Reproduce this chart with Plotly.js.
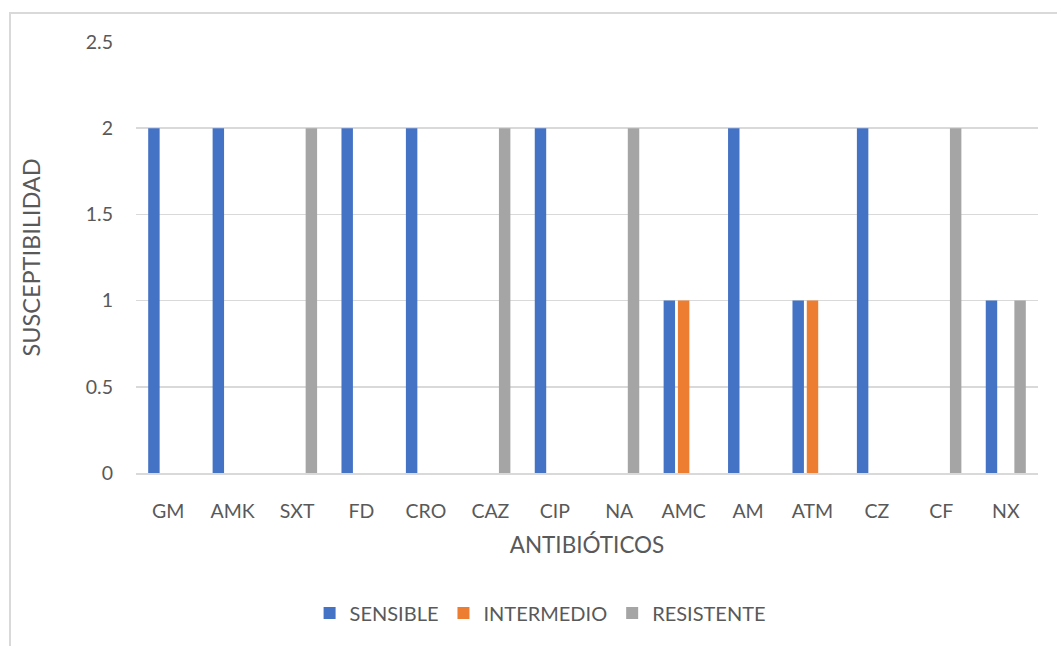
<!DOCTYPE html>
<html>
<head>
<meta charset="utf-8">
<script src="https://cdn.plot.ly/plotly-3.0.1.min.js"></script>
<style>
html,body{margin:0;padding:0;background:#fff;}
#frame{position:absolute;left:9px;top:12px;width:1100px;height:700px;border-left:2px solid #d9d9d9;border-top:2px solid #d9d9d9;z-index:0;}
#chart{position:absolute;left:0;top:0;width:1057px;height:646px;z-index:1;}
</style>
</head>
<body>
<div id="frame"></div>
<div id="chart"></div>
<script>
const categories = ["GM","AMK","SXT","FD","CRO","CAZ","CIP","NA","AMC","AM","ATM","CZ","CF","NX"];
const sensible   = [2,2,0,2,2,0,2,0,1,2,1,2,0,1];
const intermedio = [0,0,0,0,0,0,0,0,1,0,1,0,0,0];
const resistente = [0,0,2,0,0,2,0,2,0,0,0,0,2,1];
const yTickVals = [0,0.5,1,1.5,2,2.5];
const yTickText = ["0","0.5","1","1.5","2","2.5"];

const font = "Lato, 'Noto Sans', sans-serif";
const txt = "#595959";

const traces = [
  {type:"bar", name:"SENSIBLE", x:categories, y:sensible, marker:{color:"#4472C4"}},
  {type:"bar", name:"INTERMEDIO", x:categories, y:intermedio, marker:{color:"#ED7D31"}},
  {type:"bar", name:"RESISTENTE", x:categories, y:resistente, marker:{color:"#A5A5A5"}}
];

const layout = {
  width:1057, height:646,
  margin:{l:136, r:19, t:42, b:173},
  paper_bgcolor:"rgba(0,0,0,0)",
  plot_bgcolor:"rgba(0,0,0,0)",
  barmode:"group",
  bargap:0.334,
  bargroupgap:0.2,
  font:{family:font, color:txt, size:19.5},
  showlegend:true,
  legend:{orientation:"h", x:0.448, xanchor:"center", y:-0.325, yanchor:"middle",
          font:{family:font, size:20, color:txt}, itemwidth:30, tracegroupgap:0},
  xaxis:{
    type:"category",
    showline:true, linecolor:"#d9d9d9", linewidth:1.5,
    showgrid:false, ticks:"", ticklabelstandoff:20,
    tickfont:{family:font, size:19.5, color:txt},
    title:{text:"ANTIBIÓTICOS", font:{family:font, size:22.5, color:txt}, standoff:16}
  },
  yaxis:{
    range:[0,2.5], tickvals:yTickVals, ticktext:yTickText,
    showgrid:true, gridcolor:"#d9d9d9", gridwidth:1.5,
    zeroline:false, showline:false, ticks:"", ticklabelstandoff:22,
    tickfont:{family:font, size:19.5, color:txt},
    title:{text:"SUSCEPTIBILIDAD", font:{family:font, size:23.5, color:txt}, standoff:38}
  }
};

Plotly.newPlot("chart", traces, layout, {displayModeBar:false, staticPlot:true});
</script>
</body>
</html>
